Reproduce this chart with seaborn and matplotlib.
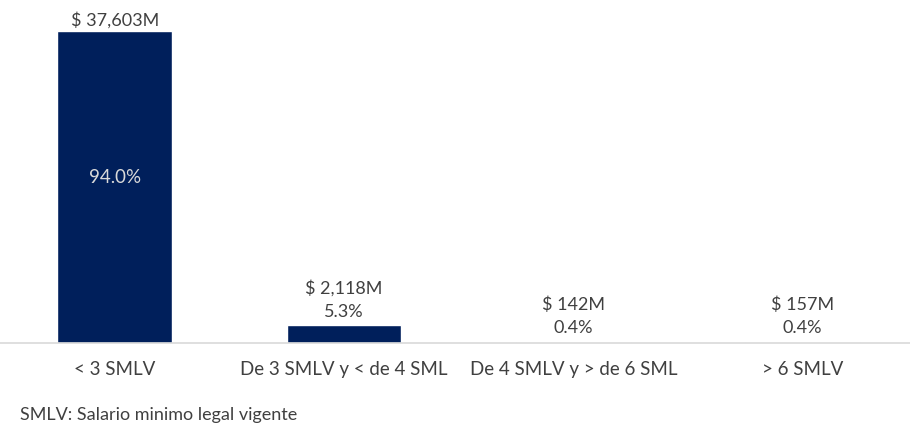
import pandas as pd
import matplotlib.pyplot as plt
import seaborn as sns

categorias = ["< 3 SMLV", "De 3 SMLV y < de 4 SML", "De 4 SMLV y > de 6 SML", "> 6 SMLV"]
montos = [37603, 2118, 142, 157]          # millones de pesos
porcentajes = [94.0, 5.3, 0.4, 0.4]

df = pd.DataFrame({"cat": categorias, "monto": montos, "pct": porcentajes})

sns.set_theme(style="white")
plt.rcParams['font.family'] = ['Lato', 'DejaVu Sans']
gris = "#404040"

fig = plt.figure(figsize=(9.1, 4.33), dpi=100)
ax = fig.add_axes([0.0, 0.208, 1.008, 0.792])
sns.barplot(data=df, x="cat", y="monto", color="#001f5b", saturation=1, width=0.5, ax=ax)
ax.set_ylim(0, 41300)

for i, (m, p) in enumerate(zip(montos, porcentajes)):
    if i == 0:
        ax.text(i, m + 300, f"$ {m:,}M", ha="center", va="bottom", fontsize=13, color=gris)
        ax.text(i, m * 0.53, f"{p:.1f}%", ha="center", va="center", fontsize=13.5, color="#d9d9d9")
    else:
        ax.text(i, m + 700, f"{p:.1f}%", ha="center", va="bottom", fontsize=13, color=gris)
        ax.text(i, m + 3500, f"$ {m:,}M", ha="center", va="bottom", fontsize=13, color=gris)

sns.despine(ax=ax, left=True, top=True, right=True)
ax.spines["bottom"].set_color("#d9d9d9")
ax.spines["bottom"].set_linewidth(1.2)
ax.set_yticks([])
ax.set_xlabel("")
ax.set_ylabel("")
ax.tick_params(axis="x", length=0, pad=13, labelsize=13.5, labelcolor=gris)

fig.text(0.022, 0.03, "SMLV: Salario minimo legal vigente", fontsize=13, color=gris)
fig.savefig("out.png", dpi=100)
